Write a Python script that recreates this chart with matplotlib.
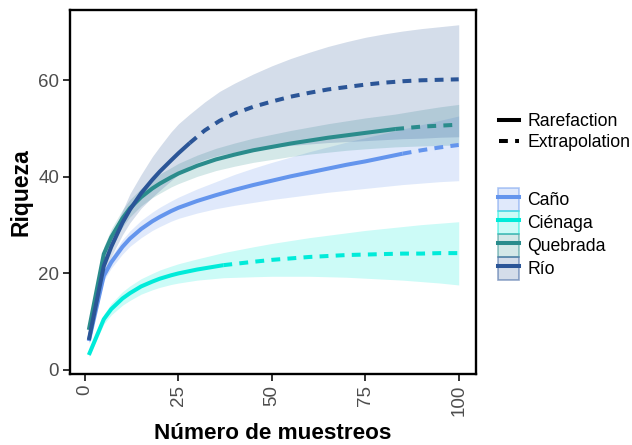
import numpy as np
import matplotlib
matplotlib.use("Agg")
import matplotlib.pyplot as plt
from matplotlib.lines import Line2D
from matplotlib.patches import Patch

plt.rcParams["font.family"] = ["Liberation Sans", "DejaVu Sans"]

# ==========================
# datos
# ==========================
sitios = ["Caño", "Ciénaga", "Quebrada", "Río"]
colores = ["#6495ED", "#00EBD9", "#2A8C8C", "#2B5597"]
n_obs = [85, 37, 83, 28]

x_cano = [1, 5, 7, 10, 12, 15, 18, 20, 23, 25, 30, 35, 40, 45, 50, 55, 60, 65, 70, 75, 80, 85, 90, 95, 100]
y_cano = [6.0, 19.5, 22.3, 25.5, 27.2, 29.2, 30.8, 31.7, 32.9, 33.6, 35.0, 36.2, 37.3, 38.3, 39.2,
          40.1, 40.9, 41.7, 42.5, 43.2, 44.0, 44.8, 45.5, 46.1, 46.6]
lo_cano = [5.5, 18.5, 21.1, 24.0, 25.6, 27.4, 28.9, 29.7, 30.8, 31.4, 32.5, 33.4, 34.1, 34.7, 35.3,
           35.8, 36.3, 36.8, 37.2, 37.6, 38.0, 38.4, 38.7, 39.0, 39.2]
hi_cano = [6.5, 20.5, 23.5, 27.0, 28.8, 31.0, 32.7, 33.7, 35.0, 35.8, 37.5, 39.0, 40.5, 41.8, 43.0,
           44.1, 45.2, 46.2, 47.2, 48.1, 49.0, 49.9, 50.8, 51.7, 52.6]

x_cien = [1, 5, 7, 10, 12, 15, 18, 20, 23, 25, 30, 37, 45, 50, 55, 60, 65, 70, 75, 80, 85, 90, 95, 100]
y_cien = [3.1, 10.5, 12.6, 14.8, 15.9, 17.3, 18.3, 18.9, 19.6, 20.0, 20.8, 21.7, 22.4, 22.8, 23.1,
          23.4, 23.6, 23.8, 23.9, 24.0, 24.1, 24.1, 24.2, 24.2]
lo_cien = [2.7, 9.5, 11.4, 13.4, 14.4, 15.7, 16.6, 17.1, 17.7, 18.0, 18.6, 19.1, 19.3, 19.4, 19.4,
           19.4, 19.3, 19.2, 19.0, 18.8, 18.6, 18.3, 18.0, 17.6]
hi_cien = [3.5, 11.5, 13.8, 16.2, 17.4, 18.9, 20.0, 20.7, 21.5, 22.0, 23.0, 24.3, 25.5, 26.2, 26.8,
           27.4, 27.9, 28.4, 28.9, 29.3, 29.7, 30.1, 30.4, 30.7]

x_queb = [1, 5, 7, 10, 12, 15, 18, 20, 23, 25, 30, 35, 40, 45, 50, 55, 60, 65, 70, 75, 83, 90, 95, 100]
y_queb = [8.3, 24.0, 27.5, 31.4, 33.5, 35.8, 37.6, 38.6, 39.9, 40.7, 42.3, 43.6, 44.6, 45.5, 46.2,
          46.9, 47.5, 48.1, 48.6, 49.1, 49.9, 50.4, 50.6, 50.8]
lo_queb = [7.6, 22.5, 25.8, 29.6, 31.7, 34.0, 35.7, 36.6, 37.9, 38.6, 40.1, 41.3, 42.2, 43.0, 43.6,
           44.2, 44.7, 45.1, 45.5, 45.8, 46.2, 46.4, 46.5, 46.6]
hi_queb = [9.0, 25.5, 29.2, 33.2, 35.3, 37.6, 39.5, 40.6, 41.9, 42.8, 44.5, 45.9, 47.0, 48.0, 48.8,
           49.6, 50.3, 51.0, 51.6, 52.2, 53.0, 53.9, 54.5, 55.0]

x_rio = [1, 5, 7, 10, 12, 15, 18, 20, 23, 25, 28, 32, 36, 40, 45, 50, 55, 60, 65, 70, 75, 80, 85, 90, 95, 100]
y_rio = [6.2, 21.5, 25.5, 30.5, 33.2, 36.6, 39.4, 41.1, 43.4, 44.9, 47.0, 49.6, 51.6, 53.1, 54.5,
         55.6, 56.6, 57.4, 58.1, 58.6, 59.1, 59.5, 59.8, 60.0, 60.1, 60.2]
lo_rio = [5.5, 20.0, 23.5, 28.0, 30.5, 33.5, 35.8, 37.2, 39.2, 40.5, 42.3, 43.6, 44.5, 45.1, 45.7,
          46.1, 46.5, 46.8, 47.1, 47.3, 47.5, 47.7, 47.9, 48.0, 48.2, 48.3]
hi_rio = [7.0, 23.0, 27.5, 33.0, 36.5, 40.5, 44.2, 46.3, 49.3, 51.0, 53.0, 55.5, 57.7, 59.4, 61.3,
          63.0, 64.5, 65.8, 67.0, 68.0, 68.9, 69.6, 70.2, 70.7, 71.1, 71.5]

series = [
    (x_cano, y_cano, lo_cano, hi_cano),
    (x_cien, y_cien, lo_cien, hi_cien),
    (x_queb, y_queb, lo_queb, hi_queb),
    (x_rio, y_rio, lo_rio, hi_rio),
]

# ==========================
# figura
# ==========================
fig = plt.figure(figsize=(6.32, 4.45), dpi=100)
ax = fig.add_axes([0.111, 0.16, 0.642, 0.818])

dash = (0, (2.2, 1.8))
lw = 2.9

for (x, y, lo, hi), col in zip(series, colores):
    ax.fill_between(x, lo, hi, color=col, alpha=0.2, linewidth=0)

for (x, y, lo, hi), col, t in zip(series, colores, n_obs):
    x = np.array(x)
    y = np.array(y)
    rare = x <= t
    extra = x >= t
    ax.plot(x[rare], y[rare], color=col, lw=lw, solid_capstyle="butt")
    ax.plot(x[extra], y[extra], color=col, lw=lw, linestyle=dash)

ax.set_xlim(-4.0, 104.6)
ax.set_ylim(-0.8, 74.6)
ax.set_xticks([0, 25, 50, 75, 100])
ax.set_yticks([0, 20, 40, 60])
ax.tick_params(axis="x", labelrotation=90)
ax.tick_params(labelsize=13.5, labelcolor="#4d4d4d", length=5, width=1.4,
               color="#333333", pad=3)

for s in ax.spines.values():
    s.set_linewidth(1.7)
    s.set_color("black")

ax.set_xlabel("Número de muestreos", fontsize=16.2, fontweight="bold", labelpad=5)
ax.set_ylabel("Riqueza", fontsize=16.5, fontweight="bold", labelpad=4)

# ==========================
# leyendas
# ==========================
h1 = [
    Line2D([], [], color="black", lw=lw),
    Line2D([], [], color="black", lw=lw, linestyle=dash),
]
leg1 = fig.legend(
    h1, ["Rarefaction", "Extrapolation"],
    loc="center left", bbox_to_anchor=(0.79, 0.703),
    frameon=False, fontsize=12.7, handlelength=1.14,
    handletextpad=0.45, labelspacing=0.25, borderpad=0, borderaxespad=0
)

h2 = []
for col in colores:
    p = Patch(facecolor=matplotlib.colors.to_rgba(col, 0.2),
              edgecolor=matplotlib.colors.to_rgba(col, 0.5), linewidth=1.2)
    l = Line2D([], [], color=col, lw=lw)
    h2.append((p, l))

leg2 = fig.legend(
    h2, sitios,
    loc="center left", bbox_to_anchor=(0.788, 0.474),
    frameon=False, fontsize=12.7, handlelength=1.2, handleheight=1.63,
    handletextpad=0.45, labelspacing=0.0, borderpad=0, borderaxespad=0
)

fig.savefig("out.png", dpi=100)
